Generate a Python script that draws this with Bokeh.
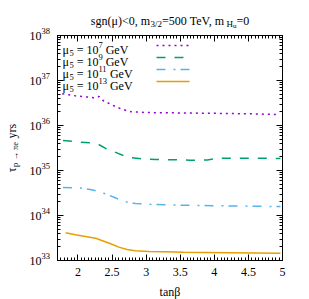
import math
from bokeh.plotting import figure
from bokeh.models import (FixedTicker, LinearAxis, LogAxis,
                          CustomJSTickFormatter, Range1d, ColumnDataSource)
from bokeh.core.properties import value
from bokeh.embed import file_html
from bokeh.resources import INLINE

# ---------------- data ----------------
tan_beta_mu7 = [1.77, 1.87, 1.96, 2.06, 2.16, 2.23, 2.31, 2.38, 2.47, 2.55,
                2.63, 2.71, 2.79, 2.89, 2.99, 3.28, 3.80, 4.53, 4.95]
tau_mu7 = [5.06e36, 4.81e36, 4.57e36, 4.41e36, 4.26e36, 4.13e36, 4.41e36,
           3.47e36, 3.03e36, 2.64e36, 2.35e36, 2.15e36, 2.01e36, 1.98e36,
           1.94e36, 1.92e36, 1.88e36, 1.82e36, 1.75e36]

tan_beta_mu9 = [1.78, 2.04, 2.18, 2.31, 2.40, 2.57, 2.67, 2.79, 2.94, 3.14,
                3.43, 3.64, 3.90, 4.05, 4.42, 4.69, 4.97]
tau_mu9 = [4.64e35, 4.26e35, 4.13e35, 3.73e35, 3.13e35, 2.47e35, 2.15e35,
           1.92e35, 1.82e35, 1.75e35, 1.73e35, 1.69e35, 1.72e35, 1.87e35,
           1.87e35, 1.87e35, 1.85e35]

tan_beta_mu11 = [1.78, 1.94, 2.06, 2.18, 2.26, 2.40, 2.53, 2.60, 2.72, 2.84,
                 3.09, 3.28, 3.55, 3.80, 4.53, 4.97]
tau_mu11 = [4.19e34, 4.13e34, 4.05e34, 3.78e34, 3.54e34, 3.04e34, 2.55e34,
            2.27e34, 1.98e34, 1.85e34, 1.76e34, 1.73e34, 1.69e34, 1.67e34,
            1.61e34, 1.58e34]

tan_beta_mu13 = [1.82, 1.96, 2.11, 2.26, 2.35, 2.48, 2.60, 2.72, 2.84, 3.04,
                 3.28, 3.55, 4.24, 4.97]
tau_mu13 = [4.12e33, 3.72e33, 3.41e33, 3.13e33, 2.78e33, 2.35e33, 1.98e33,
            1.76e33, 1.64e33, 1.58e33, 1.56e33, 1.53e33, 1.49e33, 1.45e33]

legend_exponents = ["7", "9", "11", "13"]
x_ticks = [2, 2.5, 3, 3.5, 4, 4.5, 5]
y_tick_exponents = [33, 34, 35, 36, 37, 38]

# ---------------- layout ----------------
FONT = "Liberation Serif"
W, H = 309, 299
FL, FT, FW, FH = 57, 35, 225, 225
X0, X1 = 1.7, 5.0
E0, E1 = 33, 38
NB = "\u00a0"

p = figure(width=W, height=H, output_backend="svg", toolbar_location=None,
           x_range=Range1d(X0, X1), y_range=Range1d(10.0 ** E0, 10.0 ** E1),
           y_axis_type="log",
           min_border_left=FL, min_border_right=W - FL - FW,
           min_border_top=FT, min_border_bottom=H - FT - FH)
p.grid.visible = False
p.outline_line_color = "black"
p.background_fill_color = "white"
p.border_fill_color = "white"

xminor = [round(X0 + 0.05 * i, 2) for i in range(int(round((X1 - X0) / 0.05)) + 1)]
yminor = [k * 10.0 ** e for e in range(E0, E1) for k in range(2, 10)]
xticker = FixedTicker(ticks=x_ticks, minor_ticks=xminor)
yticker = FixedTicker(ticks=[10.0 ** e for e in y_tick_exponents], minor_ticks=yminor)
blank = CustomJSTickFormatter(code="return '';")


def style(ax):
    ax.major_tick_in = 6
    ax.major_tick_out = 0
    ax.minor_tick_in = 3
    ax.minor_tick_out = 0
    ax.axis_line_color = "black"
    ax.major_tick_line_color = "black"
    ax.minor_tick_line_color = "black"


xa = p.xaxis[0]
xa.ticker = xticker
xa.formatter = CustomJSTickFormatter(code="return tick.toString();")
xa.major_label_text_font = FONT
xa.major_label_text_font_size = "12px"
xa.major_label_text_color = "black"
xa.major_label_standoff = 7
style(xa)

ya = p.yaxis[0]
ya.ticker = yticker
ya.formatter = blank
style(ya)

top = LinearAxis(ticker=xticker, formatter=blank)
style(top)
p.add_layout(top, "above")
right = LogAxis(ticker=yticker, formatter=blank)
style(right)
p.add_layout(right, "right")

# ---------------- curves ----------------
colors = ["#9400d3", "#009e73", "#56b4e9", "#e69f00"]
dashes = ["2 4", "9 9", "9 8 2 5", "solid"]
series = [(tan_beta_mu7, tau_mu7), (tan_beta_mu9, tau_mu9),
          (tan_beta_mu11, tau_mu11), (tan_beta_mu13, tau_mu13)]
for (xs, ys), c, d in zip(series, colors, dashes):
    p.line(xs, ys, line_color=c, line_width=1.5, line_dash=d)


# ---------------- helpers (canvas pixel -> data) ----------------
def dx(px):
    return X0 + (px - FL) / FW * (X1 - X0)


def dy(py):
    return 10.0 ** (E1 - (py - FT) / FH * (E1 - E0))


WID = {"s": .389, "g": .5, "n": .5, "(": .333, ")": .333, "μ": .576, "<": .564,
       ",": .25, " ": .25, NB: .25, "m": .778, "/": .278, "=": .564, "T": .611,
       "e": .444, "V": .722, "H": .722, "u": .5, "G": .722, "τ": .44, "p": .5,
       "→": 1.0, "π": .55, "y": .5, "r": .333, "t": .278, "a": .444, "β": .5}


def measure(t, size):
    return sum(WID.get(ch, .5) for ch in t) * size


groups = {}


def put(text, px, py, size, align="left", baseline="alphabetic", angle=0.0):
    key = (size, align, baseline, angle)
    g = groups.setdefault(key, {"x": [], "y": [], "t": []})
    g["x"].append(dx(px))
    g["y"].append(dy(py))
    g["t"].append(text)


def chain(pieces, px, py):
    for t, s, sh in pieces:
        put(t, px, py + sh, s)
        px += measure(t, s)


# title
title_pieces = [("sgn(μ)<0," + NB + "m", 12, 0), ("3/2", 9, 3),
                ("=500" + NB + "TeV," + NB + "m", 12, 0),
                ("H", 9, 3), ("u", 7, 5), ("=0", 12, 0)]
tw = sum(measure(t, s) for t, s, _ in title_pieces)
chain(title_pieces, 169.5 - tw / 2, 20)

# y tick labels
for e in y_tick_exponents:
    py = FT + (E1 - e) * FH / (E1 - E0)
    put("10", 41, py, 12, align="right", baseline="middle")
    put(str(e), 41, py - 5, 8.5, align="left", baseline="middle")

# x axis title
put("tanβ", 169.5, 291, 12, align="center")

# y axis title (rotated)
yt = [("τ", 12, 0), ("p" + NB + "→" + NB + "πe", 8.5, 3), (NB + "yrs", 12, 0)]
tl = sum(measure(t, s) for t, s, _ in yt)
py = 147.5 + tl / 2
for t, s, sh in yt:
    put(t, 11 + sh, py, s, align="left", baseline="middle", angle=math.pi / 2)
    py -= measure(t, s)

# legend
rows_y = [45, 57, 69, 81]
for ex, ry, c, d in zip(legend_exponents, rows_y, colors, dashes):
    chain([("μ", 12, 0), ("5", 8.5, 3), (NB + "=" + NB + "10", 12, 0),
           (ex, 8.5, -5), (NB + "GeV", 12, 0)], 62, ry + 4)
    p.line([dx(156), dx(189)], [dy(ry), dy(ry)], line_color=c,
           line_width=1.5, line_dash=d)

for (size, align, baseline, angle), g in groups.items():
    src = ColumnDataSource(dict(x=g["x"], y=g["y"], text=g["t"]))
    r = p.text(x="x", y="y", text="text", source=src,
               text_font=value(FONT), text_font_size=f"{size}px",
               text_align=align, text_baseline=baseline, angle=angle,
               text_color="black")
    r.level = "overlay"

open("out.html", "w").write(file_html(p, INLINE))
